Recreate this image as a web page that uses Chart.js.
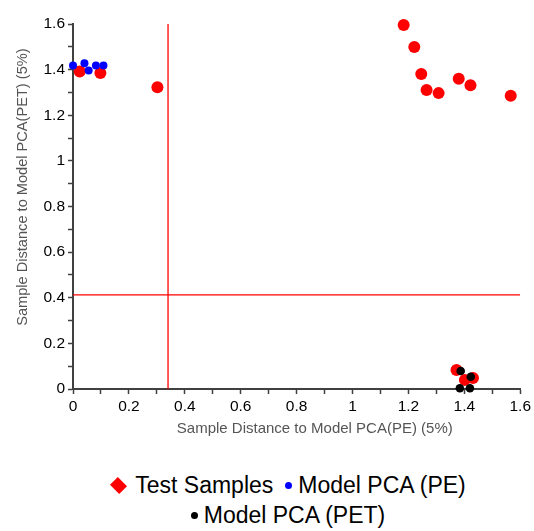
<!DOCTYPE html>
<html>
<head>
<meta charset="utf-8">
<script src="https://cdn.jsdelivr.net/npm/chart.js@4.4.1/dist/chart.umd.min.js"></script>
<style>
  html, body { margin: 0; padding: 0; background: #fff; }
  #wrap { position: relative; width: 534px; height: 448px; }
  #legend { width: 534px; margin-top: 22px; font-family: "Liberation Sans", Arial, sans-serif; font-size: 23px; color: #000; box-sizing: border-box; padding-left: 40px; }
  .row { display: flex; justify-content: center; align-items: center; height: 30px; }
  .item { display: flex; align-items: center; margin: 0 5px; white-space: nowrap; }
  .diamond { width: 13px; height: 13px; transform: rotate(45deg) scaleY(0.85); margin: 0 10px 0 4px; }
  .dot { width: 7px; height: 7px; border-radius: 50%; margin: 0 6px 0 2px; }
</style>
</head>
<body>
<div id="wrap"><canvas id="c"></canvas></div>
<div id="legend"></div>
<script>
// ---- data ----
const seriesNames = ["Test Samples", "Model PCA (PE)", "Model PCA (PET)"];
const testX = [0.024, 0.098, 0.302, 1.183, 1.221, 1.246, 1.265, 1.308, 1.380, 1.422, 1.566, 1.372, 1.402, 1.431];
const testY = [1.392, 1.385, 1.323, 1.596, 1.499, 1.381, 1.311, 1.297, 1.360, 1.332, 1.285, 0.083, 0.040, 0.048];
const pcaPEX = [0.000, 0.041, 0.056, 0.082, 0.109];
const pcaPEY = [1.418, 1.428, 1.396, 1.418, 1.418];
const pcaPETX = [1.387, 1.423, 1.384, 1.420];
const pcaPETY = [0.079, 0.054, 0.003, 0.003];
const limitPE = 0.34;   // vertical threshold line (x)
const limitPET = 0.413; // horizontal threshold line (y)
const axisMin = 0, axisMax = 1.6;
const xTitle = "Sample Distance to Model PCA(PE) (5%)";
const yTitle = "Sample Distance to Model PCA(PET) (5%)";

const pts = (xs, ys) => xs.map((x, i) => ({x, y: ys[i]}));
const FONT = "'Liberation Sans', Arial, sans-serif";
const AXIS = '#404040';

const datasets = [
  { label: seriesNames[0], data: pts(testX, testY), backgroundColor: '#ff0000', borderColor: '#ff0000', pointRadius: 6, pointBorderWidth: 0, order: 3, clip: false, legendShape: 'diamond' },
  { label: seriesNames[1], data: pts(pcaPEX, pcaPEY), backgroundColor: '#0000ff', borderColor: '#0000ff', pointRadius: 4, pointBorderWidth: 0, order: 2, clip: false, legendShape: 'dot' },
  { label: seriesNames[2], data: pts(pcaPETX, pcaPETY), backgroundColor: '#000000', borderColor: '#000000', pointRadius: 4.3, pointBorderWidth: 0, order: 1, clip: false, legendShape: 'dot' },
  { type: 'line', label: 'limitX', data: [{x: limitPE, y: axisMin}, {x: limitPE, y: axisMax}], borderColor: '#ff0000', borderWidth: 1.3, pointRadius: 0, order: 4, showLine: true, hideLegend: true },
  { type: 'line', label: 'limitY', data: [{x: axisMin, y: limitPET}, {x: axisMax, y: limitPET}], borderColor: '#ff0000', borderWidth: 1.3, pointRadius: 0, order: 4, showLine: true, hideLegend: true }
];

const tickCb = v => {
  const k = Math.round(v * 10);
  return k % 2 === 0 ? String(+(k / 10).toFixed(1)) : '';
};

const scaleCommon = {
  type: 'linear', min: axisMin, max: axisMax,
  ticks: { stepSize: 0.1, callback: tickCb, color: '#000', font: { family: FONT, size: 15.5 }, autoSkip: false, maxRotation: 0 },
  grid: { drawOnChartArea: false, drawTicks: true, tickLength: 5, tickColor: AXIS, tickWidth: 1.5 },
  border: { display: true, color: AXIS, width: 2 }
};

// axis titles drawn with the chart (positioned like the original, slightly off-centre)
const axisTitles = {
  id: 'axisTitles',
  afterDraw(chart) {
    const ctx = chart.ctx;
    const xs = chart.scales.x, ys = chart.scales.y;
    ctx.save();
    ctx.fillStyle = '#555';
    ctx.textAlign = 'center';
    ctx.textBaseline = 'middle';
    ctx.font = "15px " + FONT;
    ctx.fillText(xTitle, xs.getPixelForValue(0.865), xs.bottom - 19);
    ctx.font = "14.6px " + FONT;
    ctx.translate(23, ys.getPixelForValue(0.885));
    ctx.rotate(-Math.PI / 2);
    ctx.fillText(yTitle, 0, 0);
    ctx.restore();
  }
};

new Chart(document.getElementById('c'), {
  type: 'scatter',
  data: { datasets },
  plugins: [axisTitles],
  options: {
    responsive: true, maintainAspectRatio: false, animation: false,
    layout: { padding: { left: 0, right: 13, top: 24, bottom: 0 } },
    plugins: { legend: { display: false }, tooltip: { enabled: false } },
    scales: {
      x: Object.assign({}, scaleCommon, {
        ticks: Object.assign({}, scaleCommon.ticks, { padding: 3 }),
        afterFit: s => { s.height = 59; }
      }),
      y: Object.assign({}, scaleCommon, {
        ticks: Object.assign({}, scaleCommon.ticks, { padding: 3 }),
        afterFit: s => { s.width = 73; }
      })
    }
  }
});

// HTML legend built from the dataset definitions
const legend = document.getElementById('legend');
const shown = datasets.filter(d => !d.hideLegend);
const rows = [shown.slice(0, 2), shown.slice(2)];
rows.forEach(r => {
  const row = document.createElement('div');
  row.className = 'row';
  r.forEach(d => {
    const it = document.createElement('div');
    it.className = 'item';
    const m = document.createElement('span');
    m.className = d.legendShape;
    m.style.background = d.backgroundColor;
    it.appendChild(m);
    const t = document.createElement('span');
    t.textContent = d.label;
    it.appendChild(t);
    row.appendChild(it);
  });
  legend.appendChild(row);
});
</script>
</body>
</html>
